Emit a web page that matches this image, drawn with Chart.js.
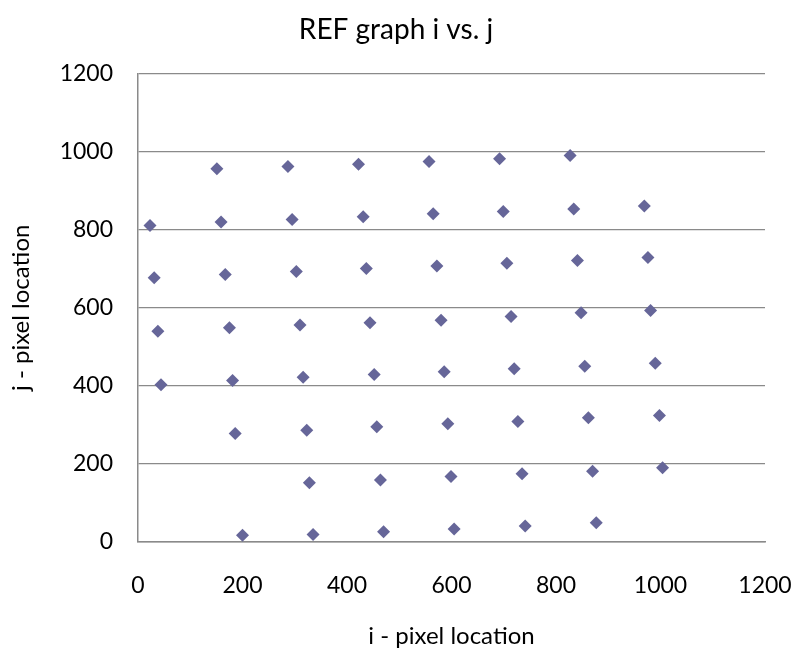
<!DOCTYPE html>
<html>
<head>
<meta charset="utf-8">
<script src="https://cdn.jsdelivr.net/npm/chart.js@4/dist/chart.umd.min.js"></script>
<style>
  html, body { margin: 0; padding: 0; background: #fff; }
  #wrap { width: 795px; height: 654px; }
</style>
</head>
<body>
<div id="wrap"><canvas id="chart-ref" width="795" height="654"></canvas></div>
<script>
  // i, j pixel locations, row by row (top row first)
  var iValues = [
    151, 287, 422, 557, 692, 827,
    23, 159, 295, 431, 565, 699, 834, 969,
    31, 167, 303, 437, 572, 706, 841, 976,
    38, 175, 310, 444, 580, 714, 848, 981,
    44, 181, 316, 452, 586, 720, 855, 990,
    186, 323, 457, 593, 727, 862, 998,
    328, 464, 599, 735, 870, 1004,
    200, 335, 470, 605, 741, 877
  ];
  var jValues = [
    956, 962, 968, 975, 982, 990,
    811, 820, 826, 833, 841, 847, 853, 861,
    677, 685, 693, 701, 707, 714, 721, 729,
    540, 549, 556, 562, 568, 578, 587, 593,
    403, 414, 422, 429, 436, 444, 450, 458,
    278, 286, 295, 303, 309, 318, 324,
    152, 159, 168, 175, 181, 190,
    17, 19, 26, 33, 41, 49
  ];
  var axisMin = 0, axisMax = 1200, axisStep = 200;

  var points = iValues.map(function(v, k) { return { x: v, y: jValues[k] }; });
  var gridGray = '#8a8a8a';
  var fontFam = 'Lato, "Open Sans", sans-serif';
  function plainTick(v) { return String(v); }

  new Chart(document.getElementById('chart-ref'), {
    type: 'scatter',
    data: {
      datasets: [{
        label: 'j',
        data: points,
        pointStyle: 'rectRot',
        pointRadius: 6.5,
        pointHoverRadius: 6.5,
        backgroundColor: '#666699',
        borderColor: '#666699',
        borderWidth: 0
      }]
    },
    options: {
      responsive: false,
      animation: false,
      layout: { padding: { left: 0, right: 3, top: 0, bottom: 0 } },
      plugins: {
        legend: { display: false },
        tooltip: { enabled: false },
        title: {
          display: true,
          text: 'REF graph i vs. j',
          color: '#000',
          font: { family: fontFam, size: 28, weight: 'normal' },
          padding: { top: 13, bottom: 27 }
        }
      },
      scales: {
        x: {
          type: 'linear',
          min: axisMin, max: axisMax,
          ticks: { stepSize: axisStep, color: '#000', padding: 30, callback: plainTick, font: { family: fontFam, size: 23 } },
          grid: { display: false, drawTicks: false },
          border: { display: true, color: gridGray, width: 1.5 },
          title: {
            display: true, text: 'i - pixel location', color: '#000',
            font: { family: fontFam, size: 24 }, padding: { top: 3, bottom: 3 }
          },
          afterFit: function(scale) {
            scale.height = 112;
            scale.paddingLeft = 0;
            scale.paddingRight = 30;
          }
        },
        y: {
          type: 'linear',
          min: axisMin, max: axisMax,
          ticks: { stepSize: axisStep, color: '#000', padding: 25, callback: plainTick, font: { family: fontFam, size: 23 } },
          grid: { color: gridGray, lineWidth: 1.2, drawTicks: false },
          border: { display: true, color: gridGray, width: 1.5 },
          title: {
            display: true, text: 'j - pixel location', color: '#000',
            font: { family: fontFam, size: 24 }, padding: { top: 7, bottom: 7 }
          },
          afterFit: function(scale) { scale.width = 138; }
        }
      }
    }
  });
</script>
</body>
</html>
